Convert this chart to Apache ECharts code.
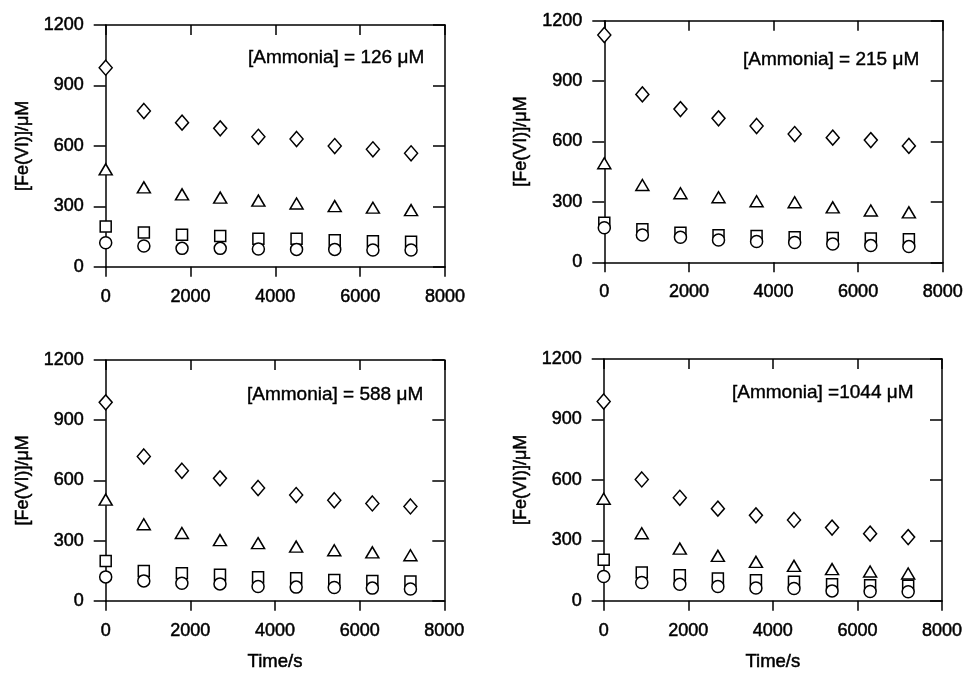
<!DOCTYPE html>
<html>
<head>
<meta charset="utf-8">
<script src="https://cdn.jsdelivr.net/npm/echarts@6/dist/echarts.min.js"></script>
<style>html,body{margin:0;padding:0;background:#fff;}#c{width:966px;height:673px;}</style>
</head>
<body>
<div id="c"></div>
<script>
// ---- data ----
var times = [0, 900, 1800, 2700, 3600, 4500, 5400, 6300, 7200];
var xTicks = [0, 2000, 4000, 6000, 8000];
var yTicks = [0, 300, 600, 900, 1200];
var panelLabels = ['[Ammonia] = 126 \u03bcM', '[Ammonia] = 215 \u03bcM', '[Ammonia] = 588 \u03bcM', '[Ammonia] =1044 \u03bcM'];

// panel 1: [Ammonia] = 126 uM
var p1Diamond  = [988, 773, 715, 687, 645, 634, 599, 583, 563];
var p1Triangle = [483, 394, 359, 343, 328, 314, 301, 293, 281];
var p1Square   = [199, 170, 159, 152, 139, 139, 131, 126, 124];
var p1Circle   = [119, 103, 91, 91, 88, 86, 86, 83, 83];
// panel 2: [Ammonia] = 215 uM
var p2Diamond  = [1129, 834, 761, 715, 677, 637, 619, 607, 578];
var p2Triangle = [492, 384, 343, 323, 303, 298, 273, 257, 248];
var p2Square   = [197, 164, 147, 134, 131, 124, 121, 118, 114];
var p2Circle   = [172, 136, 124, 111, 103, 98, 91, 83, 78];
// panel 3: [Ammonia] = 588 uM
var p3Diamond  = [989, 719, 648, 610, 562, 527, 501, 485, 470];
var p3Triangle = [504, 381, 338, 302, 287, 270, 252, 241, 227];
var p3Square   = [198, 148, 137, 129, 117, 112, 104, 99, 96];
var p3Circle   = [119, 99, 87, 84, 71, 68, 66, 63, 59];
// panel 4: [Ammonia] = 1044 uM
var p4Diamond  = [989, 602, 511, 457, 424, 401, 363, 333, 316];
var p4Triangle = [506, 335, 259, 223, 193, 173, 157, 145, 135];
var p4Square   = [203, 140, 127, 110, 102, 94, 82, 77, 74];
var p4Circle   = [120, 91, 82, 71, 63, 61, 49, 46, 45];

var panels = [
  [p1Diamond, p1Triangle, p1Square, p1Circle],
  [p2Diamond, p2Triangle, p2Square, p2Circle],
  [p3Diamond, p3Triangle, p3Square, p3Circle],
  [p4Diamond, p4Triangle, p4Square, p4Circle]
];

// ---- layout ----
var grids = [
  {left: 105.7, top: 25,   width: 339.3, height: 241.7},
  {left: 604.3, top: 20.7, width: 339,   height: 241.6},
  {left: 105.7, top: 360,  width: 338.6, height: 242.7},
  {left: 603.7, top: 359,  width: 338.3, height: 242.7}
];
var annPos = [[248, 58], [743, 60], [247, 395], [732, 393]];
var symbols = [
  {name: 'diamond', size: [13, 15]},
  {name: 'triangle', size: [13, 11]},
  {name: 'rect', size: [11, 11]},
  {name: 'circle', size: [12, 12]}
];

var FONT = 'Liberation Sans, Arial, Helvetica, sans-serif';
var TXT = '#000';
var lineStyle = {color: '#000', width: 1.5};
var heavy = {textBorderColor: '#000', textBorderWidth: 0.5};
function plain(v) { return String(v); }
function txt(size) {
  return Object.assign({color: TXT, fontSize: size, fontFamily: FONT}, heavy);
}

var xAxes = [], yAxes = [], series = [], graphics = [];
grids.forEach(function (g, i) {
  var bottomRow = i >= 2;
  xAxes.push({
    gridIndex: i, type: 'value', min: 0, max: 8000, position: 'bottom',
    axisLabel: Object.assign({customValues: xTicks, formatter: plain, margin: 21}, txt(18)),
    axisTick: {customValues: xTicks, inside: false, length: 10, lineStyle: lineStyle},
    axisLine: {onZero: false, lineStyle: lineStyle},
    splitLine: {show: false},
    name: bottomRow ? 'Time/s' : '', nameLocation: 'middle', nameGap: 52,
    nameTextStyle: txt(18.5)
  });
  xAxes.push({
    gridIndex: i, type: 'value', min: 0, max: 8000, position: 'top',
    axisLabel: {show: false},
    axisTick: {customValues: xTicks, inside: true, length: 10, lineStyle: lineStyle},
    axisLine: {onZero: false, lineStyle: lineStyle},
    splitLine: {show: false}
  });
  yAxes.push({
    gridIndex: i, type: 'value', min: 0, max: 1200, position: 'left',
    axisLabel: Object.assign({customValues: yTicks, formatter: plain, margin: 22}, txt(18)),
    axisTick: {customValues: yTicks, inside: false, length: 12, lineStyle: lineStyle},
    axisLine: {onZero: false, lineStyle: lineStyle},
    splitLine: {show: false},
    name: '[Fe(VI)]/\u03bcM', nameLocation: 'middle', nameRotate: 90, nameGap: 74,
    nameTextStyle: txt(18)
  });
  yAxes.push({
    gridIndex: i, type: 'value', min: 0, max: 1200, position: 'right',
    axisLabel: {show: false},
    axisTick: {customValues: yTicks, inside: true, length: 12, lineStyle: lineStyle},
    axisLine: {onZero: false, lineStyle: lineStyle},
    splitLine: {show: false}
  });
  panels[i].forEach(function (vals, k) {
    series.push({
      type: 'scatter', xAxisIndex: 2 * i, yAxisIndex: 2 * i,
      symbol: symbols[k].name, symbolSize: symbols[k].size,
      itemStyle: {color: '#fff', borderColor: '#000', borderWidth: 1.5, opacity: 1},
      data: times.map(function (t, j) { return [t, vals[j]]; }),
      z: 3 + k, animation: false
    });
  });
  graphics.push({
    type: 'text', x: annPos[i][0], y: annPos[i][1],
    style: {text: panelLabels[i], fill: TXT, stroke: '#000', lineWidth: 0.4, fontSize: 19, fontFamily: FONT, verticalAlign: 'middle', align: 'left'}
  });
});

var chart = echarts.init(document.getElementById('c'), null, {renderer: 'canvas'});
chart.setOption({
  backgroundColor: '#fff',
  animation: false,
  grid: grids,
  xAxis: xAxes,
  yAxis: yAxes,
  series: series,
  graphic: graphics
});
</script>
</body>
</html>
